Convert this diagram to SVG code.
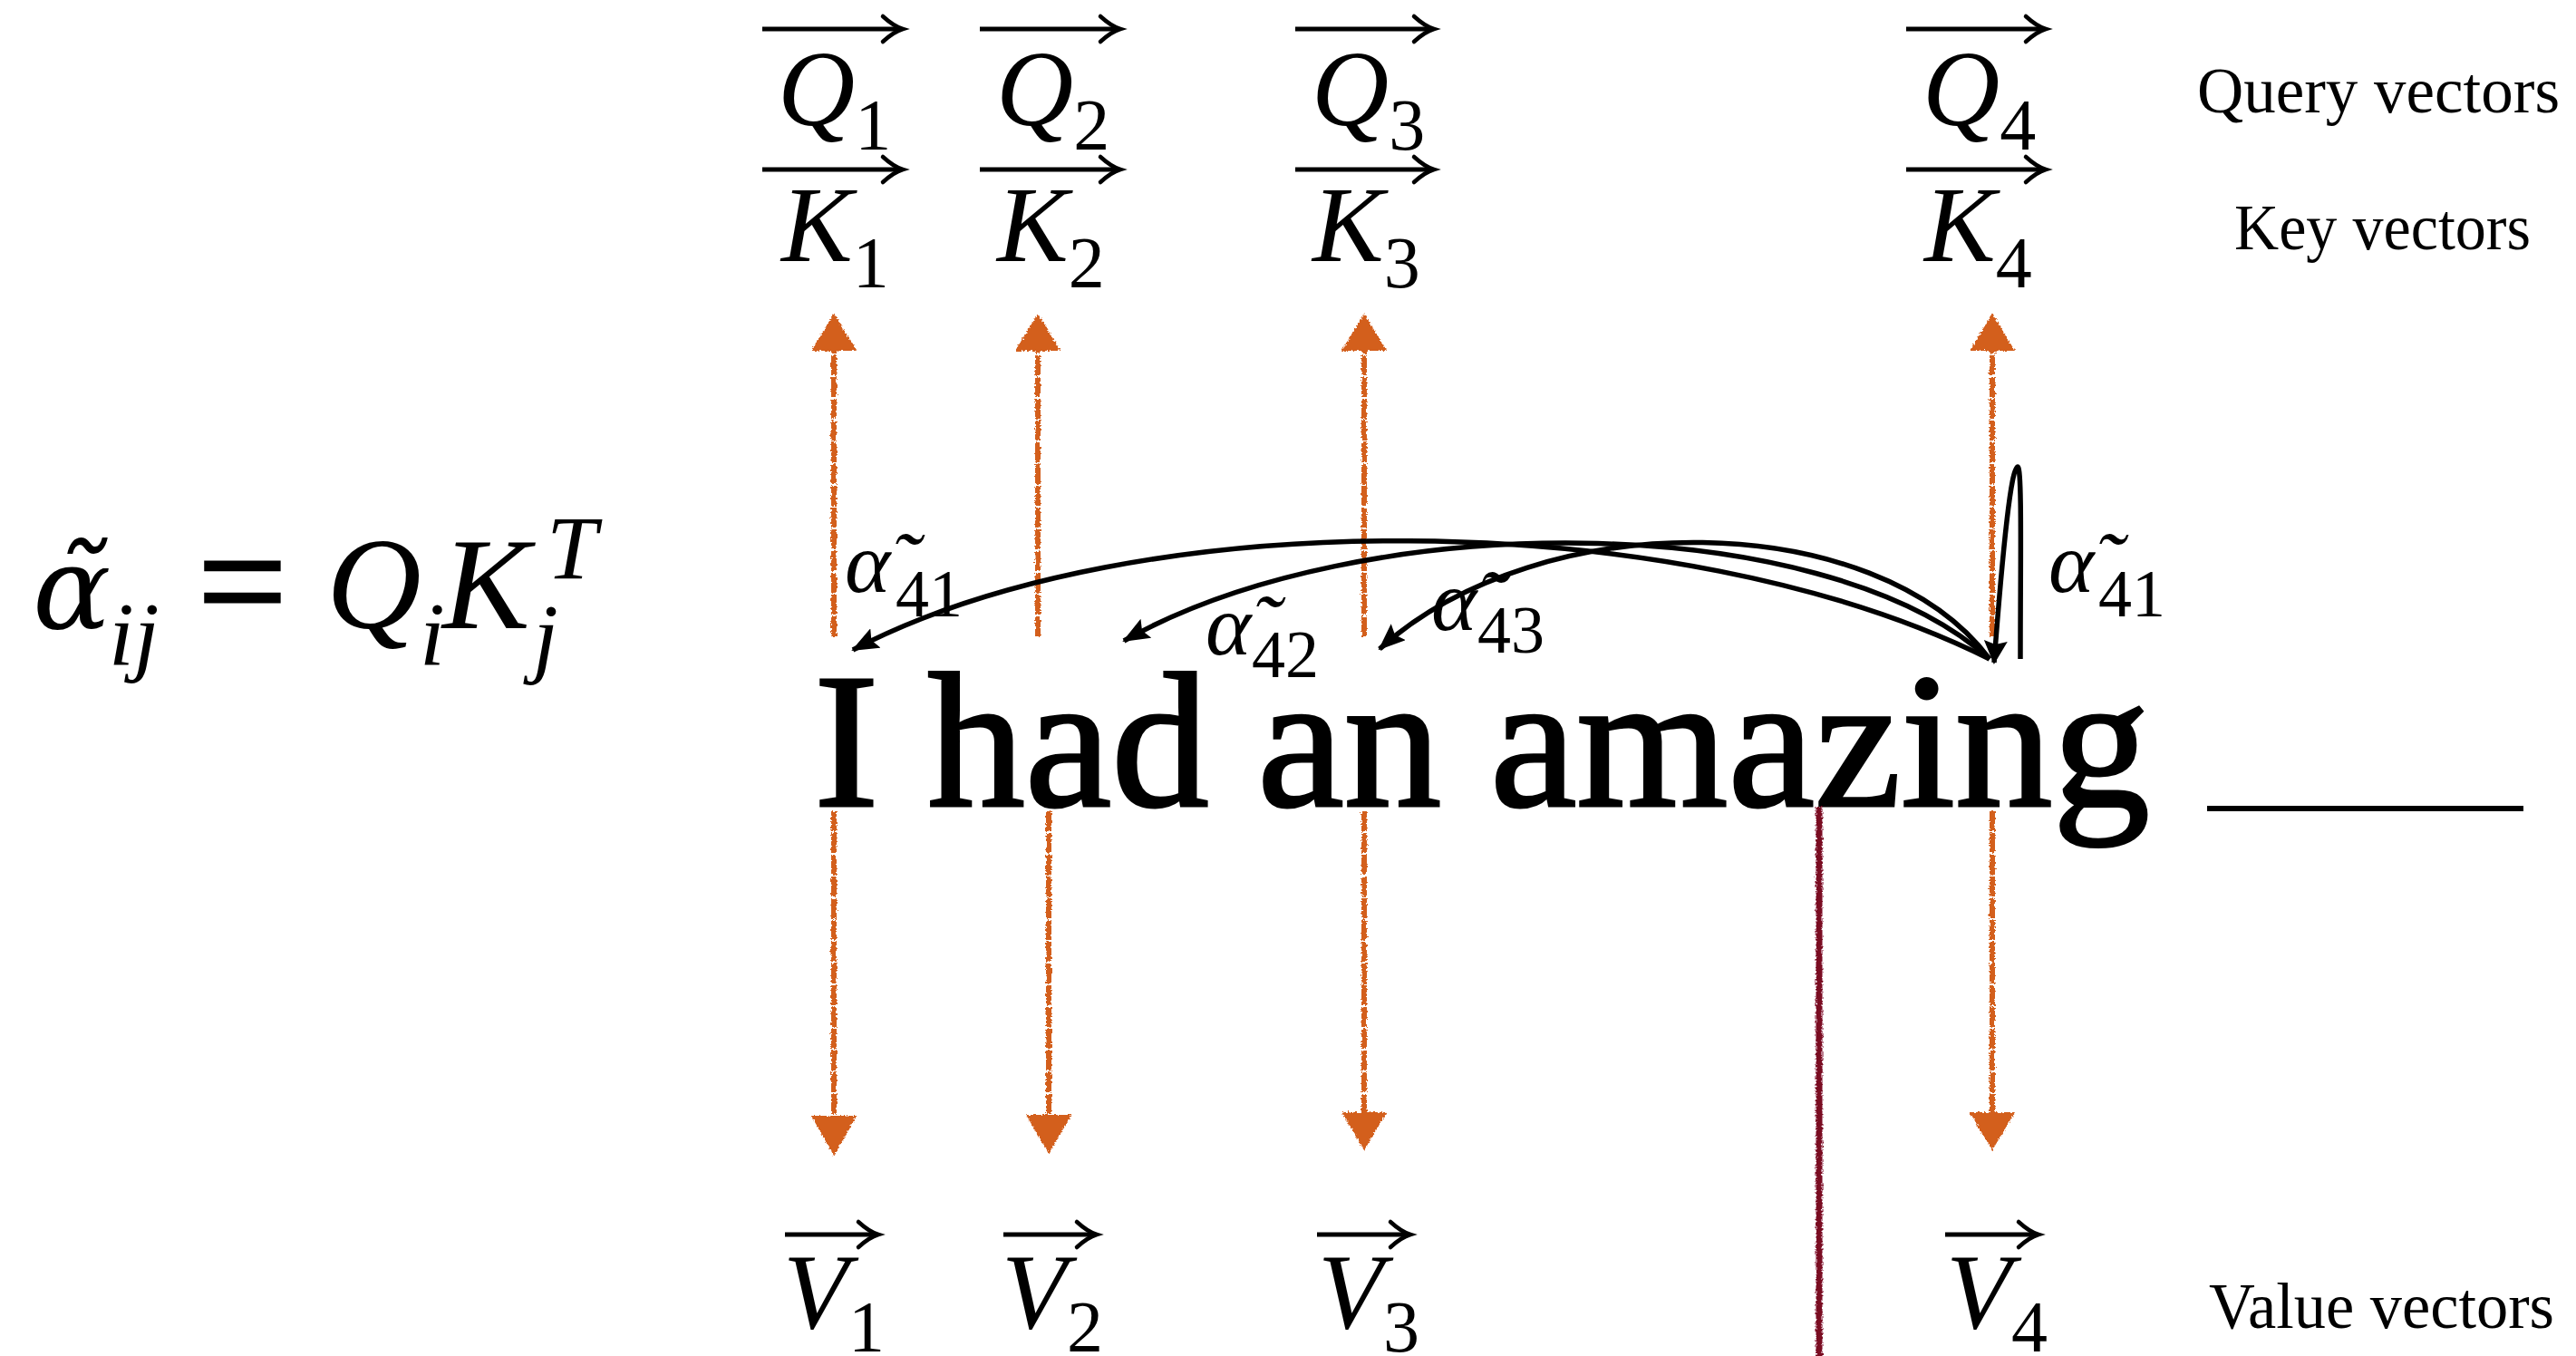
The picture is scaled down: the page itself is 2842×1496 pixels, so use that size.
<svg xmlns="http://www.w3.org/2000/svg" xmlns:xlink="http://www.w3.org/1999/xlink" width="2842" height="1496" viewBox="0 0 2842 1496">
<style>
.it{font-family:"Liberation Serif","Times New Roman",serif;font-style:italic;fill:#000}
.rm{font-family:"Liberation Serif","Times New Roman",serif;font-style:normal;fill:#000}
.vec{font-size:118px}
.sub{font-size:80px;font-style:normal}
.lab{font-size:96px}
.lsub{font-size:74px;font-style:normal}
.side{font-size:72px}
.vl{stroke:#000;stroke-width:5;fill:none}
.vh{stroke:#000;stroke-width:4.5;fill:none;stroke-linecap:round}
.orl{stroke:#D35E1E;stroke-width:6;fill:none;stroke-dasharray:22 2}
.orh{fill:#D35E1E}
.red{stroke:#7A0824;stroke-width:7;fill:none}
.att{stroke:#000;stroke-width:5.5;fill:none}
</style>
<defs>
<filter id="rough" filterUnits="userSpaceOnUse" x="0" y="0" width="2842" height="1496">
<feTurbulence type="fractalNoise" baseFrequency="0.45" numOctaves="2" seed="4" result="n"/>
<feDisplacementMap in="SourceGraphic" in2="n" scale="5" xChannelSelector="R" yChannelSelector="G"/>
</filter>
<path id="ah" d="M-21,-14 Q-9,-3 1,0 Q-9,3 -21,14"/>
<marker id="bk" viewBox="0 0 30 24" refX="28" refY="12" markerWidth="30" markerHeight="24" markerUnits="userSpaceOnUse" orient="auto">
<path d="M0,0 L30,12 L0,24 L5,12 z" fill="#000"/>
</marker>
<marker id="bk2" viewBox="0 0 26 26" refX="24" refY="13" markerWidth="26" markerHeight="26" markerUnits="userSpaceOnUse" orient="auto">
<path d="M0,0 L26,13 L0,26 L4,13 z" fill="#000"/>
</marker>
</defs>
<rect width="2842" height="1496" fill="#fff"/>

<g id="formula">
<text x="36" y="693" font-size="128" font-family="'DejaVu Serif','Liberation Serif',serif" font-style="italic">α̃</text>
<text class="it" x="120" y="733" font-size="100">ij</text>
<text class="rm" x="218" y="700" font-size="175" stroke="#000" stroke-width="3">=</text>
<text class="it" x="360" y="693" font-size="145">Q</text>
<text class="it" x="463" y="733" font-size="100">i</text>
<text class="it" x="488" y="693" font-size="145">K</text>
<text class="it" x="588" y="735" font-size="100">j</text>
<text class="it" x="603" y="638" font-size="100">T</text>
</g>

<g id="query-vectors">
<g id="q1"><line class="vl" x1="841" y1="32" x2="993" y2="32"/><use href="#ah" class="vh" x="995" y="32"/><text class="it vec" x="858" y="138">Q<tspan class="sub" dy="27">1</tspan></text></g>
<g id="q2"><line class="vl" x1="1081" y1="32" x2="1233" y2="32"/><use href="#ah" class="vh" x="1235" y="32"/><text class="it vec" x="1099" y="138">Q<tspan class="sub" dy="27">2</tspan></text></g>
<g id="q3"><line class="vl" x1="1429" y1="32" x2="1579" y2="32"/><use href="#ah" class="vh" x="1581" y="32"/><text class="it vec" x="1447" y="138">Q<tspan class="sub" dy="27">3</tspan></text></g>
<g id="q4"><line class="vl" x1="2103" y1="32" x2="2254" y2="32"/><use href="#ah" class="vh" x="2256" y="32"/><text class="it vec" x="2121" y="138">Q<tspan class="sub" dy="27">4</tspan></text></g>
</g>

<g id="key-vectors">
<g id="k1"><line class="vl" x1="841" y1="187" x2="993" y2="187"/><use href="#ah" class="vh" x="995" y="187"/><text class="it vec" x="862" y="288">K<tspan class="sub" dy="29">1</tspan></text></g>
<g id="k2"><line class="vl" x1="1081" y1="187" x2="1233" y2="187"/><use href="#ah" class="vh" x="1235" y="187"/><text class="it vec" x="1100" y="288">K<tspan class="sub" dy="29">2</tspan></text></g>
<g id="k3"><line class="vl" x1="1429" y1="187" x2="1579" y2="187"/><use href="#ah" class="vh" x="1581" y="187"/><text class="it vec" x="1448" y="288">K<tspan class="sub" dy="29">3</tspan></text></g>
<g id="k4"><line class="vl" x1="2103" y1="187" x2="2254" y2="187"/><use href="#ah" class="vh" x="2256" y="187"/><text class="it vec" x="2123" y="288">K<tspan class="sub" dy="29">4</tspan></text></g>
</g>

<g id="value-vectors">
<g id="v1"><line class="vl" x1="866" y1="1362" x2="966" y2="1362"/><use href="#ah" class="vh" x="968" y="1362"/><text class="it vec" x="864" y="1465">V<tspan class="sub" dy="26">1</tspan></text></g>
<g id="v2"><line class="vl" x1="1107" y1="1362" x2="1207" y2="1362"/><use href="#ah" class="vh" x="1209" y="1362"/><text class="it vec" x="1105" y="1465">V<tspan class="sub" dy="26">2</tspan></text></g>
<g id="v3"><line class="vl" x1="1453" y1="1362" x2="1553" y2="1362"/><use href="#ah" class="vh" x="1555" y="1362"/><text class="it vec" x="1454" y="1465">V<tspan class="sub" dy="26">3</tspan></text></g>
<g id="v4"><line class="vl" x1="2146" y1="1362" x2="2246" y2="1362"/><use href="#ah" class="vh" x="2248" y="1362"/><text class="it vec" x="2147" y="1465">V<tspan class="sub" dy="26">4</tspan></text></g>
</g>

<g id="side-labels">
<text class="rm side" x="2424" y="124" textLength="400" lengthAdjust="spacingAndGlyphs">Query vectors</text>
<text class="rm side" x="2465" y="275" font-size="70" textLength="327" lengthAdjust="spacingAndGlyphs">Key vectors</text>
<text class="rm side" x="2437" y="1465" textLength="381" lengthAdjust="spacingAndGlyphs">Value vectors</text>
</g>

<g id="sentence">
<text class="rm" x="898" y="889" font-size="212" stroke="#000" stroke-width="3" textLength="1474" lengthAdjust="spacingAndGlyphs">I had an amazing</text>
<rect x="2435" y="889" width="349" height="6" fill="#000"/>
</g>

<g id="connectors">
<g filter="url(#rough)">
<line class="orl" x1="920" y1="702" x2="920" y2="385"/>
<line class="orl" x1="1145" y1="702" x2="1145" y2="385"/>
<line class="orl" x1="1505" y1="702" x2="1505" y2="385"/>
<line class="orl" x1="2198" y1="702" x2="2198" y2="385"/>
<polygon class="orh" points="920,346 945,387 895,387"/>
<polygon class="orh" points="1145,346 1170,387 1120,387"/>
<polygon class="orh" points="1505,346 1530,387 1480,387"/>
<polygon class="orh" points="2198,346 2223,387 2173,387"/>
<line class="orl" x1="920" y1="895" x2="920" y2="1233"/>
<line class="orl" x1="1157" y1="895" x2="1157" y2="1232"/>
<line class="orl" x1="1505" y1="895" x2="1505" y2="1229"/>
<line class="orl" x1="2198" y1="895" x2="2198" y2="1229"/>
<polygon class="orh" points="895,1231 945,1231 920,1275"/>
<polygon class="orh" points="1132,1230 1182,1230 1157,1273"/>
<polygon class="orh" points="1480,1227 1530,1227 1505,1269"/>
<polygon class="orh" points="2173,1227 2223,1227 2198,1269"/>
<line class="red" x1="2007" y1="890" x2="2007" y2="1496"/>
</g>
<path id="a41" class="att" d="M2195,727 C1850,555 1250,555 941,717" marker-end="url(#bk)"/>
<path id="a42" class="att" d="M2195,727 C2010,560 1500,560 1240,707" marker-end="url(#bk)"/>
<path id="a43" class="att" d="M2195,727 C2070,560 1700,555 1522,716" marker-end="url(#bk)"/>
<path id="a44" class="att" d="M2229,727 C2229,620 2231,515 2226,515 C2219,515 2210,600 2200,731" stroke-width="4.5" marker-end="url(#bk2)"/>
</g>

<g id="weights">
<text class="it lab" x="932" y="653">α̃<tspan class="lsub" x="988" y="680">41</tspan></text>
<text class="it lab" x="1330" y="722">α̃<tspan class="lsub" x="1381" y="747">42</tspan></text>
<text class="it lab" x="1579" y="695">α̃<tspan class="lsub" x="1630" y="720">43</tspan></text>
<text class="it lab" x="2260" y="653">α̃<tspan class="lsub" x="2315" y="680">41</tspan></text>
</g>
</svg>
